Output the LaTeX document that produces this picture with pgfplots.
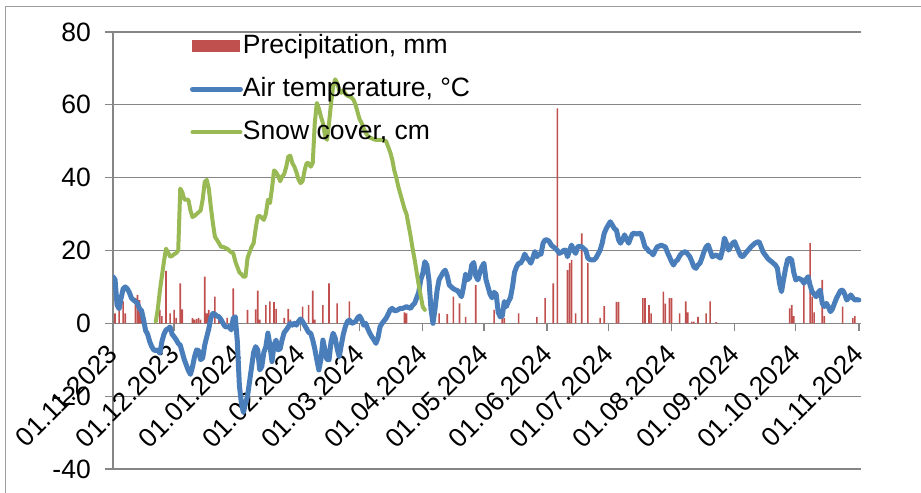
\documentclass[border=0pt]{standalone}
\usepackage{fontspec}
\setmainfont{Liberation Sans}
\usepackage{pgfplots}
\pgfplotsset{compat=1.18}
\definecolor{precred}{HTML}{C0504D}
\definecolor{tempblue}{HTML}{4A7EBB}
\definecolor{snowgreen}{HTML}{98B954}
\definecolor{gridgray}{HTML}{868686}
\pgfplotsset{
  mylineleg/.style={legend image code/.code={\draw[##1] (0bp,0bp) -- (48bp,0bp);}},
  mybarleg/.style={legend image code/.code={\fill[precred] (0bp,-6bp) rectangle (48bp,6bp);}},
}
\begin{document}
\begin{tikzpicture}[font=\fontsize{26.5bp}{31bp}\selectfont]
\path[use as bounding box] (0,0) rectangle (921bp,493bp);
\draw[color=gray!75, line width=1.5bp] (5.5bp,-5bp) -- (5.5bp,486.5bp) -- (930bp,486.5bp);
\begin{axis}[
  at={(113bp,24bp)}, anchor=south west,
  scale only axis, width=748bp, height=437bp,
  xmin=0, xmax=367, ymin=-40, ymax=80,
  axis x line=middle, axis y line=left,
  x axis line style={-}, y axis line style={-},
  every inner x axis line/.append style={-},
  every outer y axis line/.append style={-},
  axis line style={draw=gridgray, line width=1.3bp},
  hide obscured x ticks=false, hide obscured y ticks=false,
  ytick={-40,-20,0,20,40,60,80},
  yticklabels={-40,-20,0,20,40,60,80},
  xtick={0,30,61,92,121,152,182,213,243,274,305,335,366},
  xticklabels={01.11.2023,01.12.2023,01.01.2024,01.02.2024,01.03.2024,01.04.2024,01.05.2024,01.06.2024,01.07.2024,01.08.2024,01.09.2024,01.10.2024,01.11.2024},
  tick align=outside,
  major tick length=8bp,
  tick style={draw=gridgray, line width=1.3bp},
  ymajorgrids, grid style={draw=gridgray, line width=1.3bp},
  xticklabel style={yshift=-18bp, rotate=45, anchor=east, inner sep=0pt},
  yticklabel style={xshift=-14bp, anchor=east, inner sep=0pt},
  legend cell align=left,
  legend style={at={(0.1029,0.9947)}, anchor=north west, draw=none, fill=none,
    inner sep=0pt, outer sep=0pt,
    nodes={inner sep=0pt, text height=19bp, text depth=5bp},
    row sep=19bp, column sep=0bp},
]
\addplot[ybar, bar width=1.6bp, fill=precred, draw=none, mybarleg]
coordinates {
(1,2.7)(3,5.5)(5,6)(6,2.7)(11,7)(12,7.8)(13,6.4)(14,2)(23,3.7)(24,2)(26,14.4)(28,2.7)(30,3.7)(31,1.5)
(33,11)(34,3.8)(39,1.4)(40,1)(41,1.2)(42,1.5)(43,1)(45,12.8)(46,2.7)(47,3.7)(50,7.3)(52,1)(56,1.5)
(59,9.6)(60,1)(66,3.7)(70,3.8)(71,9)(72,1)(75,5)(77,6)(79,5.8)(80,4)(84,1.5)(86,4)(87,1)(93,4.6)
(96,5)(98,9)(99,1)(103,5)(106,11)(110,5.5)(116,6)(117,1)(143,3)(144,2.7)(160,2.7)(164,2.5)(167,7.3)
(170,5.5)(173,1.8)(178,10.5)(187,3.7)(191,1.8)(192,1.5)(199,2.7)(208,1.8)(212,6.9)(216,11)(218,59)
(223,14.6)(224,16.5)(225,17.4)(227,2.7)(230,24.7)(233,16.5)(239,1.5)(241,4.7)(247,5.9)(248,5.9)
(260,6.9)(261,6.9)(263,5)(264,2.7)(270,8.7)(271,5.4)(273,6.9)(274,6.9)(278,2.7)(281,6)(282,3)
(284,0.5)(285,0.5)(287,1.8)(291,2.7)(293,6)(296,0.3)(332,4.1)(333,5)(334,2)(339,10.5)(342,22)
(343,7.3)(344,3)(348,11.9)(349,2)(358,4.6)(363,1.4)(364,2)
};
\addlegendentry{Precipitation, mm}
\addplot[color=tempblue, line width=5bp, line join=round, line cap=round, mylineleg]
coordinates {
(0,12.8)(1,12)(2,5)(3,4)(4,7)(5,9.5)(6,10)(7,9.5)(8,8.5)(9,7)(10,6.4)(11,6)(12,5.5)(13,4)(14,3.5)
(15,1)(16,-2)(17,-3)(18,-5)(19,-6.4)(20,-7.3)(21,-7.5)(22,-7.3)(23,-8.2)(24,-5)(25,-3)(26,-1.8)
(27,-1.5)(28,-1)(29,-3)(30,-3.7)(31,-4.5)(32,-5.5)(33,-6)(34,-8)(35,-10)(36,-11.5)(37,-13)(38,-14)
(39,-12)(40,-9.2)(41,-7.3)(42,-7.5)(43,-10)(44,-9.5)(45,-6)(46,-3.7)(47,-1.5)(48,1.5)(49,2.7)
(50,2.5)(51,2)(52,1.8)(53,1)(54,0)(55,-0.9)(56,-1)(57,-0.9)(58,-1.8)(59,1.4)(60,1.8)(61,-5)
(62,-17)(63,-22)(64,-24.5)(65,-22)(66,-20)(67,-16)(68,-12)(69,-8)(70,-6.4)(71,-7.3)(72,-12.8)
(73,-11.9)(74,-8)(75,-6.4)(76,-2.7)(77,-6)(78,-10.5)(79,-6)(80,-4.6)(81,-7.3)(82,-7)(83,-4.5)
(84,-2.5)(85,-1.8)(86,-1)(87,0)(88,-0.5)(89,0)(90,-0.5)(91,0.5)(92,1.2)(93,0.5)(94,-0.5)(95,-1.5)
(96,-2.5)(97,-2.7)(98,-4.6)(99,-7)(100,-10)(101,-12.8)(102,-10)(103,-4.6)(104,-7.3)(105,-10)
(106,-10)(107,-5)(108,-2.7)(109,-4)(110,-7)(111,-9.2)(112,-6)(113,-3)(114,-0.9)(115,0.5)(116,0.9)
(117,0)(118,0.2)(119,0.5)(120,1.5)(121,2)(122,1)(123,-0.5)(124,0)(125,-1.5)(126,-2.7)(127,-3.7)
(128,-4.5)(129,-5.5)(130,-4)(131,-1)(132,0)(133,0.7)(134,1.4)(135,2.5)(136,3.7)(137,4.1)(138,3.5)
(139,3.5)(140,3.8)(141,4.1)(142,4.1)(143,4.3)(144,4.6)(145,4.3)(146,4.1)(147,5)(148,5.5)(149,7)
(150,8.5)(151,12)(152,13.7)(153,16.9)(154,16)(155,12)(156,4)(157,0)(158,4)(159,9)(160,12)(161,13)
(162,14)(163,14.6)(164,13)(165,10.5)(166,10)(167,9.5)(168,9.2)(169,9)(170,8.2)(171,7.3)(172,10)
(173,13.5)(174,12)(175,12.5)(176,16)(177,16.7)(178,13)(179,11.9)(180,14)(181,15.5)(182,16.5)
(183,12)(184,10)(185,8)(186,7)(187,8.5)(188,8)(189,3)(190,1.8)(191,2)(192,6)(193,4.6)(194,6)
(195,7)(196,10)(197,14)(198,15.5)(199,16.5)(200,16.5)(201,17.5)(202,19)(203,18)(204,17.4)
(205,16.5)(206,18)(207,19.7)(208,18.3)(209,19)(210,19)(211,22)(212,22.9)(213,22.9)(214,22.5)
(215,21.5)(216,21)(217,20.6)(218,20)(219,19.2)(220,19.5)(221,20)(222,20.1)(223,18.3)(224,20)
(225,21.5)(226,20)(227,19.2)(228,21)(229,21.2)(230,21)(231,20.5)(232,20)(233,17.9)(234,17.5)
(235,17.4)(236,17.4)(237,18)(238,19)(239,20.1)(240,22)(241,24.7)(242,26)(243,27)(244,27.9)
(245,27)(246,26)(247,25.6)(248,23)(249,22)(250,23)(251,24.3)(252,23)(253,22)(254,23.5)(255,24.7)
(256,24.7)(257,24.5)(258,24.7)(259,24.7)(260,23)(261,21)(262,20.5)(263,19.7)(264,19.5)(265,18.8)
(266,20)(267,21)(268,21.2)(269,21.5)(270,21.2)(271,21)(272,19.5)(273,18.3)(274,17)(275,16)
(276,17)(277,17.4)(278,18.5)(279,19.2)(280,19.5)(281,19.7)(282,19)(283,18.3)(284,17)(285,15.5)
(286,15.1)(287,16)(288,16.5)(289,18)(290,19.7)(291,21)(292,21.5)(293,20)(294,18.3)(295,18.5)
(296,18.8)(297,18.3)(298,17.9)(299,20)(300,23.4)(301,22)(302,20.1)(303,21)(304,22)(305,22.4)
(306,21)(307,19.7)(308,18.5)(309,18.3)(310,19)(311,19.7)(312,20.3)(313,21)(314,21.5)(315,22)
(316,22.3)(317,22.4)(318,21)(319,19.5)(320,18.8)(321,18)(322,17.4)(323,17)(324,16.5)(325,16)
(326,15.1)(327,11)(328,8.7)(329,12)(330,15.1)(331,17.5)(332,17.9)(333,17.4)(334,14)(335,11.9)
(336,12.4)(337,12.2)(338,11.9)(339,11)(340,12)(341,12.8)(342,10.5)(343,8.7)(344,8)(345,7.3)
(346,8.5)(347,9.1)(348,5.5)(349,4.6)(350,5.5)(351,4.5)(352,3.2)(353,4)(354,5.5)(355,6.9)(356,8)
(357,9)(358,9.1)(359,8)(360,6.4)(361,7)(362,7.8)(363,7)(364,6.4)(365,6.5)(366,6.4)
};
\addlegendentry{Air temperature, °C}
\addplot[color=snowgreen, line width=4bp, line join=round, line cap=round, mylineleg]
coordinates {
(21,0.5)(22,4)(23,9)(24,13)(25,17)(26,20.5)(27,19.5)(28,18.3)(29,18.5)(30,19)(31,19.3)(32,20)
(33,37)(34,36)(35,34)(36,34)(37,33.9)(38,31)(39,29.2)(40,29.5)(41,30)(42,30.5)(43,31)(44,34)
(45,38.8)(46,39.4)(47,37)(48,32)(49,27.5)(50,23.8)(51,22.9)(52,22)(53,21)(54,21)(55,20.7)(56,20.5)
(57,20)(58,19.5)(59,19.3)(60,17)(61,15.5)(62,14)(63,13.5)(64,12.8)(65,12.8)(66,17.9)(67,19.5)
(68,21)(69,22)(70,26)(71,29.3)(72,29.5)(73,29)(74,28.4)(75,30)(76,33.9)(77,33)(78,37)(79,42)
(80,41.5)(81,40.5)(82,39)(83,40.3)(84,41)(85,43)(86,45.8)(87,46)(88,44)(89,43)(90,41.5)(91,39.5)
(92,38.5)(93,39)(94,42)(95,44)(96,44)(97,43)(98,44)(99,55)(100,60.5)(101,59)(102,56.8)(103,55)
(104,51.5)(105,50.4)(106,55)(107,60.5)(108,65)(109,67)(110,66)(111,64)(112,63.3)(113,64)(114,63)
(115,62.5)(116,62.3)(117,62)(118,61.4)(119,60)(120,58)(121,56)(122,55)(123,53.5)(124,52.3)
(125,51.5)(126,51)(127,50.8)(128,50.5)(129,50.4)(130,50.4)(131,50.4)(132,50.4)(133,50.2)(134,50)
(135,48.5)(136,47)(137,45)(138,42)(139,40)(140,37.5)(141,35.5)(142,33.5)(143,31.5)(144,30)
(145,27)(146,24)(147,20.5)(148,17.5)(149,14)(150,10.5)(151,7.5)(152,4.5)(153,3.7)
};
\addlegendentry{Snow cover, cm}
\end{axis}
\end{tikzpicture}
\end{document}
